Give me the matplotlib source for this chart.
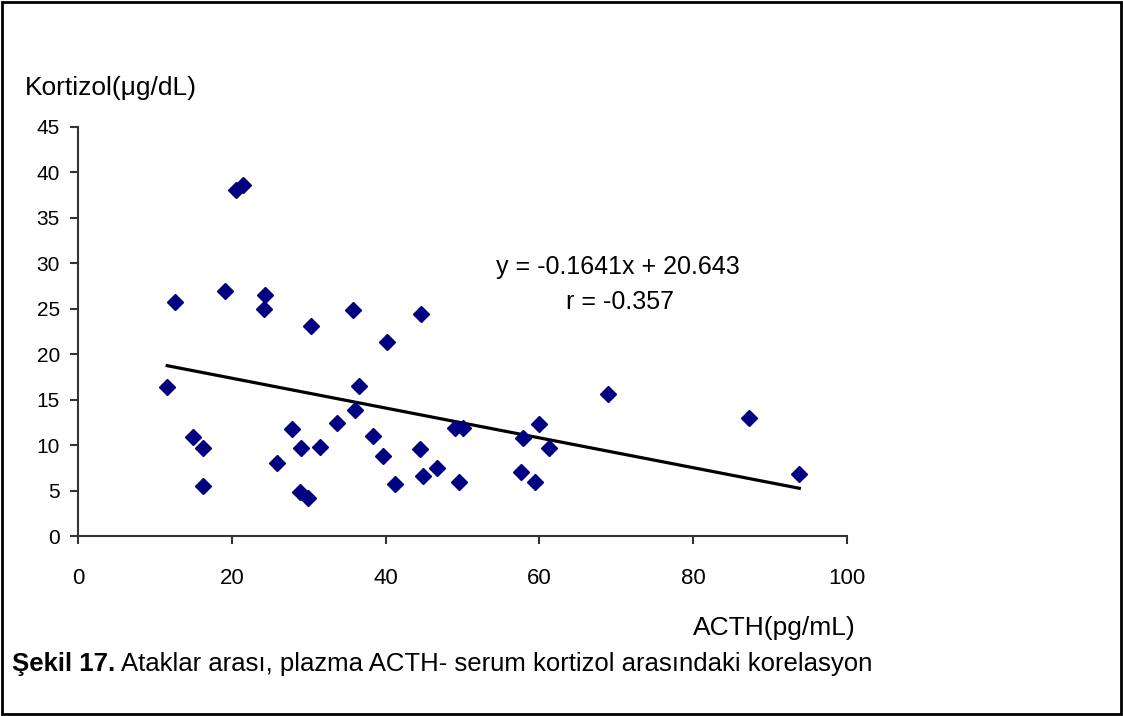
import numpy as np
import matplotlib.pyplot as plt
from matplotlib.patches import Rectangle

plt.rcParams['font.family'] = ['Liberation Sans', 'DejaVu Sans']

# ACTH (pg/mL) ve kortizol (ug/dL) degerleri
acth = [11.6, 12.6, 15.0, 16.3, 16.3, 19.1, 20.5, 21.5, 24.3, 24.2,
        25.9, 27.8, 29.0, 28.9, 29.9, 30.3, 31.5, 33.7, 35.8, 36.0,
        36.5, 38.4, 39.7, 40.2, 41.2, 44.5, 44.6, 44.9, 46.7, 49.0,
        50.1, 49.5, 57.6, 57.9, 59.4, 59.9, 61.2, 68.9, 87.3, 93.8]
kortizol = [16.4, 25.7, 10.9, 9.7, 5.5, 27.0, 38.1, 38.6, 26.5, 25.0,
            8.0, 11.8, 9.7, 4.8, 4.2, 23.1, 9.8, 12.4, 24.9, 13.9,
            16.5, 11.0, 8.8, 21.3, 5.7, 9.6, 24.4, 6.6, 7.5, 11.9,
            11.9, 5.9, 7.0, 10.8, 5.9, 12.3, 9.7, 15.6, 13.0, 6.8]

# trend cizgisi katsayilari (grafikteki denklem)
egim = -0.1641
kesisim = 20.643
r_degeri = -0.357

x_ticks = [0, 20, 40, 60, 80, 100]
y_ticks = [0, 5, 10, 15, 20, 25, 30, 35, 40, 45]

W, H = 1123, 716
fig = plt.figure(figsize=(W / 100, H / 100), dpi=100)
ax = fig.add_axes([78 / W, 1 - 536 / H, (847 - 78) / W, (536 - 127) / H])

ax.plot(acth, kortizol, linestyle='none', marker='D', markersize=8,
        color='#000080', zorder=3)

xs = np.array([min(acth), max(acth)])
ax.plot(xs, egim * xs + kesisim, color='black', linewidth=2.3, zorder=2)

ax.set_xlim(0, 100)
ax.set_ylim(0, 45)
ax.set_xticks(x_ticks)
ax.set_yticks(y_ticks)
for s in ['top', 'right']:
    ax.spines[s].set_visible(False)
for s in ['left', 'bottom']:
    ax.spines[s].set_linewidth(1.5)
    ax.spines[s].set_color('#333333')
ax.tick_params(direction='out', length=6, width=1.5, color='#333333')
ax.tick_params(axis='x', labelsize=16, pad=17)
ax.tick_params(axis='y', labelsize=15, pad=7)

ax.text((618 - 78) / (847 - 78), (536 - 267) / (536 - 127),
        'y = %.4fx + %.3f' % (egim, kesisim), transform=ax.transAxes,
        ha='center', va='center', fontsize=18)
ax.text((620 - 78) / (847 - 78), (536 - 302) / (536 - 127),
        'r = %.3f' % r_degeri, transform=ax.transAxes,
        ha='center', va='center', fontsize=18)

fig.text(25 / W, 1 - 88 / H, 'Kortizol(\u03bcg/dL)', ha='left',
         va='center', fontsize=19)
fig.text(774 / W, 1 - 628 / H, 'ACTH(pg/mL)', ha='center',
         va='center', fontsize=19)

# alt yazi: kalin "Şekil 17." ve ardindan normal metin
t1 = fig.text(12 / W, 1 - 664 / H, '\u015eekil 17.', ha='left', va='center',
              fontsize=18.5, fontweight='bold')
r = fig.canvas.get_renderer()
bb = t1.get_window_extent(renderer=r)
fig.text((bb.x1 + 6) / W, 1 - 664 / H,
         'Ataklar aras\u0131, plazma ACTH- serum kortizol aras\u0131ndaki korelasyon',
         ha='left', va='center', fontsize=18.5)

fig.patches.append(Rectangle((0.002, 0.003), 0.996, 0.994, fill=False,
                             edgecolor='black', linewidth=2,
                             transform=fig.transFigure, figure=fig))

fig.savefig('out.png', dpi=100)
